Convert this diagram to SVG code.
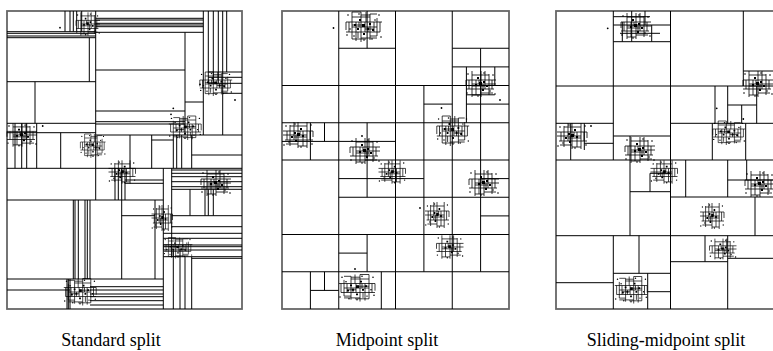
<svg xmlns="http://www.w3.org/2000/svg" xmlns:xlink="http://www.w3.org/1999/xlink" width="773" height="351" viewBox="0 0 773 351">
<style>
.b{fill:none;stroke:#666;stroke-width:1.8}
.l{fill:none;stroke:#000;stroke-width:1}
.s{fill:none;stroke:#000;stroke-width:0.8}
.f{fill:#000;stroke:none}
.lab{font-family:"Liberation Serif","Times New Roman",serif;font-size:18px;fill:#000;text-anchor:middle}
</style>
<defs>
<g id="c1">
<path class="s" d="M-18 -5H18 M-18 5H16 M-12 -15V12 M-3 -15V15 M6 -13V13 M13 -9V9 M-12 -10H6 M-3 11H13 M-8 -5V5 M1 -5V5 M10 -5V5 M-12 0H13 M-6 5V11 M-15 -5V5 M-3 -12H6 M2 -15V-5 M-8 5V14 M6 9H13 M-12 12H2 M-12 -15H-3 M6 -13H13 M16 -5V5 M-18 -5V3 M-5 -5V0 M4 0V5 M-12 -2H1 M1 2H10"/>
<path class="f" d="M-2 -3h3v3h-3z M3 1h2v2h-2z M-7 1h2v2h-2z M5 -4h2v2h-2z M-1 6h2v2h-2z M-10 -3h2v2h-2z M8 2h2v2h-2z M-5 -8h2v2h-2z"/>
<g class="f"><circle cx="-16" cy="-12" r="0.8"/><circle cx="15" cy="-12" r="0.8"/><circle cx="-17" cy="8" r="0.8"/><circle cx="17" cy="10" r="0.8"/><circle cx="-5" cy="-13" r="0.8"/><circle cx="8" cy="12" r="0.8"/><circle cx="-10" cy="9" r="0.8"/><circle cx="0" cy="13" r="0.8"/><circle cx="11" cy="-7" r="0.8"/><circle cx="-14" cy="2" r="0.8"/></g>
</g>
<g id="c2">
<path class="s" d="M-15 -4H15 M-15 5H13 M-9 -13V13 M0 -13V13 M8 -10V11 M-9 -9H8 M-5 -4V5 M4 -4V5 M-9 0H15 M0 9H12 M-12 -4V5 M-5 5V11 M4 -13V-4 M11 -4V5 M-9 11H0 M-15 -4V2 M-2 -4V0 M2 0V5 M-9 2H4"/>
<path class="f" d="M-2 -2h3v3h-3z M5 1h2v2h-2z M-6 0h2v2h-2z M1 5h2v2h-2z M-4 -7h2v2h-2z M2 -3h2v2h-2z"/>
<g class="f"><circle cx="-13" cy="-10" r="0.8"/><circle cx="12" cy="-9" r="0.8"/><circle cx="-14" cy="9" r="0.8"/><circle cx="14" cy="10" r="0.8"/><circle cx="3" cy="-11" r="0.8"/><circle cx="-3" cy="12" r="0.8"/><circle cx="9" cy="7" r="0.8"/></g>
</g>
</defs>

<g id="standard-split">
<rect class="b" x="7" y="11" width="235" height="298"/>
<path class="l" d="M7 168.3H242 M95.7 11V200 M7 200H163.3 M163.3 168.3V309 M171.7 168.3V257 M95.7 135H242
M95.7 32.3H203.3 M95.7 18.3H203.3 M95.7 20H203.3 M95.7 23.3H203.3 M95.7 25H203.3 M95.7 26.7H203.3
M95.7 70H185 M95.7 111H185 M95.7 121.7H185 M95.7 124H185 M185 32.3V135 M185 102H203.3 M203.3 11V135
M208.3 11V83.3 M213.3 11V83.3 M218.3 11V83.3 M222.7 11V135 M226.7 11V72
M208.3 72H242 M208.3 77.3H242 M208.3 83.3H242 M222.7 93.3H242
M7 31.7H95.7 M7 33.3H95.7 M7 36H95.7 M7 37.7H95.7 M89.3 37.7V81.7 M7 81.7H95.7 M35 81.7V123.3 M7 123.3H95.7 M7 132.7H95.7
M65 11V31.7 M70 11V31.7 M73.3 11V31.7 M76.7 11V31.7 M81.7 11V31.7
M15 123.3V168.3 M21.7 123.3V168.3 M26.7 123.3V168.3 M36.7 123.3V168.3 M60.7 132.7V168.3
M151.7 135V168.3 M173.3 135V168.3 M176.7 135V168.3 M181.7 135V168.3 M191.7 135V168.3 M191.7 155H242 M130 135V168.3 M151.7 140H173.3
M115 168.3V200 M118.3 168.3V200 M121.7 168.3V200 M125 168.3V200 M125 183.3H163.3 M125 180H163.3
M73.3 200V279 M75 200V279 M78.3 200V279 M85 200V279 M87.3 200V279 M90 200V279
M121.7 200V279 M121.7 215.7H155 M155 200V279 M7 279H163.3 M7 290H70
M90 286.7H163.3 M90 290H163.3 M90 294H163.3 M90 296.7H163.3 M90 300.7H163.3 M90 305H163.3
M67 279V309 M68.3 279V309 M70 279V309
M171.7 170H242 M171.7 173.3H242 M171.7 176.7H242 M171.7 181.7H242 M171.7 186.7H242 M171.7 189.3H242
M190 189.3V215.7 M205 189.3V215.7 M208.3 189.3V215.7 M213.3 189.3V215.7
M171.7 215.7H242 M171.7 226.7H242 M163.3 233.3H242
M163.3 238.3H242 M163.3 245H242 M163.3 246.7H242 M163.3 250H242 M163.3 256.7H242
M173.3 250V309 M180 250V309 M185 256.7V309 M191.7 256.7V309 M191.7 258.3H242"/>
<use href="#c2" transform="translate(88 24) scale(0.8 0.9)"/>
<use href="#c1" transform="translate(216 84) scale(0.9 0.8)"/>
<use href="#c2" transform="translate(22 135) scale(1 0.9)"/>
<use href="#c1" transform="translate(93 146) scale(0.7 0.8)"/>
<use href="#c2" transform="translate(122 172) scale(-0.9 0.9)"/>
<use href="#c1" transform="translate(185 128) scale(-0.9 0.8)"/>
<use href="#c2" transform="translate(216 183) scale(1 1)"/>
<use href="#c2" transform="translate(162 218) scale(-0.7 1)"/>
<use href="#c1" transform="translate(178 248) scale(0.8 0.7)"/>
<use href="#c1" transform="translate(80 292) scale(-0.9 0.9)"/>
<g class="f"><circle cx="60" cy="27.7" r="0.9"/><circle cx="173.3" cy="108.3" r="0.9"/><circle cx="171" cy="114.3" r="0.9"/><circle cx="200" cy="84.3" r="0.9"/><circle cx="235" cy="100" r="0.9"/><circle cx="42.7" cy="126" r="0.9"/></g>
</g>

<g id="midpoint-split">
<rect class="b" x="282" y="11" width="227" height="298"/>
<path class="l" d="M282 160H509 M395.5 11V309 M282 85.5H509 M282 234.5H509 M338.75 11V309 M452.25 11V309 M282 271.75H509
M338.75 197.25H509 M282 122.75H509 M338.75 48.25H395.5 M452.25 48.25H509
M310.4 271.75V309 M310.4 290.4H338.75 M324.5 271.75V290.4 M367.1 234.5V271.75 M338.75 253.1H367.1 M381.3 271.75V309
M423.9 234.5V271.75 M480.6 234.5V271.75 M423.9 160V234.5 M395.5 178.6H423.9 M480.6 160V234.5 M480.6 178.6H509 M480.6 215.9H509
M367.1 160V197.25 M338.75 178.6H395.5 M367.1 11V48.25 M480.6 48.25V85.5 M452.25 66.9H509 M466.4 66.9V122.75 M494.8 66.9V85.5
M466.4 104.1H509 M466.4 94.8H494.8
M310.4 122.75V160 M282 141.4H338.75 M324.5 122.75V141.4 M367.1 122.75V160 M338.75 141.4H395.5
M423.9 85.5V160 M423.9 104.1H452.25 M480.6 85.5V160"/>
<use href="#c1" x="364" y="27"/>
<use href="#c2" x="481" y="84"/>
<use href="#c2" transform="translate(298 135) scale(-1 1)"/>
<use href="#c2" x="365" y="151"/>
<use href="#c2" transform="translate(392 172) scale(-0.9 0.9)"/>
<use href="#c1" transform="translate(453 131) scale(0.9 1)"/>
<use href="#c2" x="484" y="183"/>
<use href="#c2" transform="translate(437 215) scale(-0.8 1)"/>
<use href="#c2" transform="translate(450 247) scale(0.9 0.9)"/>
<use href="#c1" transform="translate(357 288) scale(-1 0.9)"/>
<g class="f"><circle cx="333.5" cy="28" r="0.9"/><circle cx="441.5" cy="108" r="0.9"/><circle cx="500" cy="100" r="0.9"/><circle cx="362" cy="136" r="0.9"/><circle cx="420" cy="208" r="0.9"/><circle cx="355" cy="269" r="0.9"/></g>
</g>

<g id="sliding-midpoint-split">
<rect class="b" x="556" y="11" width="229" height="298"/>
<path class="l" d="M556 160H785 M670.5 11V309 M556 86H785 M613.3 11V160 M743.3 11V86 M613.3 41.7H670.5 M743.3 71H785
M715 86V123.3 M727.7 86V123.3 M727.7 105H756.7 M741.7 105V123.3 M756.7 86V123.3 M670.5 123.3H785 M556 123.3H613.3 M613.3 136H670.5
M712.3 123.3V160 M745.7 123.3V160 M570.7 123.3V160 M584.3 123.3V150 M584.3 143.3H613.3
M630 136V235.7 M630 191.7H670.5 M556 235.7H785 M685.7 160V197 M670.5 197H785 M727.7 160V197 M746.7 160V180 M727.7 180H785
M755 197V235.7 M727.7 235.7V309 M727.7 258.3H785 M670.5 261.7H727.7 M705 235.7V261.7
M556 282.7H613.3 M613.3 235.7V309 M639 235.7V273.3 M613.3 273.3H670.5 M647.7 273.3V309 M647.7 291.7H670.5
M650 173.3V191.7 M650 173.3H670.5
M622.3 22V41.7 M631.7 11V41.7 M645 11V25 M651.7 25V41.7 M613.3 16.7H650 M613.3 25H670.5 M620 33.3H660"/>
<use href="#c2" x="636" y="26"/>
<use href="#c2" x="758" y="84"/>
<use href="#c2" transform="translate(572 136) scale(-1 1)"/>
<use href="#c2" x="640" y="150"/>
<use href="#c2" transform="translate(664 172) scale(-0.9 0.9)"/>
<use href="#c1" transform="translate(729 133) scale(0.9 0.8)"/>
<use href="#c2" x="760" y="184"/>
<use href="#c2" transform="translate(712 216) scale(-0.8 1)"/>
<use href="#c2" transform="translate(723 249) scale(0.9 0.8)"/>
<use href="#c1" transform="translate(631 290) scale(-0.9 0.9)"/>
<g class="f"><circle cx="607.7" cy="28.3" r="0.9"/><circle cx="716.7" cy="108.3" r="0.9"/><circle cx="743.3" cy="119" r="0.9"/><circle cx="591" cy="126" r="0.9"/></g>
</g>

<g id="labels">
<text class="lab" x="111" y="346">Standard split</text>
<text class="lab" x="387" y="346">Midpoint split</text>
<text class="lab" x="666" y="346">Sliding-midpoint split</text>
</g>
</svg>
